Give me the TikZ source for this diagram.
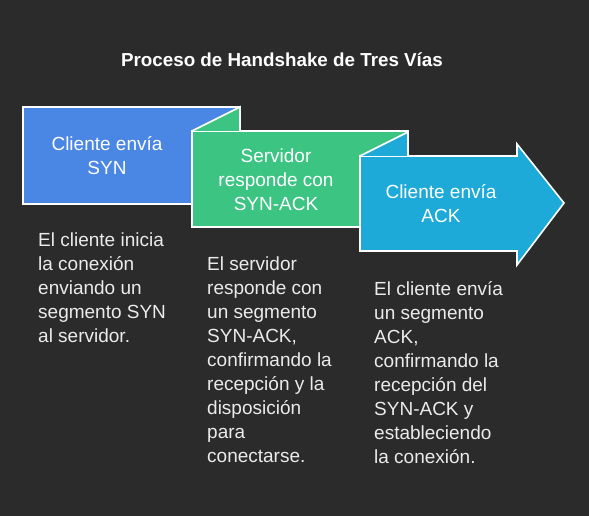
\documentclass[tikz,border=0pt]{standalone}
\usepackage{fontspec}
\setmainfont{Liberation Sans}
\definecolor{bg}{HTML}{2B2B2B}
\definecolor{cblue}{HTML}{4A86E4}
\definecolor{cgreen}{HTML}{3CC483}
\definecolor{ccyan}{HTML}{1EAAD8}
\definecolor{txt}{HTML}{EBEBEB}
\begin{document}
\begin{tikzpicture}[x=1pt,y=-1pt,
  shapeborder/.style={draw=white,line width=1.6pt,line join=miter},
  boxlabel/.style={text=white,align=center,inner sep=0pt,font=\fontsize{19}{24}\selectfont},
  desc/.style={text=txt,align=left,anchor=north west,inner sep=0pt,font=\fontsize{19}{24}\selectfont},
  titlestyle/.style={text=white,inner sep=0pt,font=\bfseries\fontsize{18.8}{22}\selectfont}]
\fill[bg] (0,0) rectangle (589,516);
\useasboundingbox (0,0) rectangle (589,516);
\node[titlestyle] (title) at (282,60) {Proceso de Handshake de Tres Vías};
% step 1
\draw[shapeborder,fill=cblue] (23,107) rectangle (240,204);
% step 2
\draw[shapeborder,fill=cgreen] (192,131) rectangle (408,227);
\fill[cgreen] (192,131) -- (240,107) -- (240,131) -- cycle;
\draw[shapeborder] (192,131) -- (240,107) -- (240,131);
% step 3
\draw[shapeborder,fill=ccyan] (360,156) -- (517,156) -- (517,144) -- (564,203) -- (517,265) -- (517,251) -- (360,251) -- cycle;
\fill[ccyan] (360,156) -- (408,132) -- (408,156) -- cycle;
\draw[shapeborder] (360,156) -- (408,132) -- (408,156);
% labels
\node[boxlabel] (l1) at (107,156) {Cliente envía\\SYN};
\node[boxlabel] (l2) at (276,180) {Servidor\\responde con\\SYN-ACK};
\node[boxlabel] (l3) at (441,204) {Cliente envía\\ACK};
% descriptions
\node[desc] (d1) at (38,233) {El cliente inicia\\la conexión\\enviando un\\segmento SYN\\al servidor.};
\node[desc] (d2) at (207,257) {El servidor\\responde con\\un segmento\\SYN-ACK,\\confirmando la\\recepción y la\\disposición\\para\\conectarse.};
\node[desc] (d3) at (374,281) {El cliente envía\\un segmento\\ACK,\\confirmando la\\recepción del\\SYN-ACK y\\estableciendo\\la conexión.};
\end{tikzpicture}
\end{document}
